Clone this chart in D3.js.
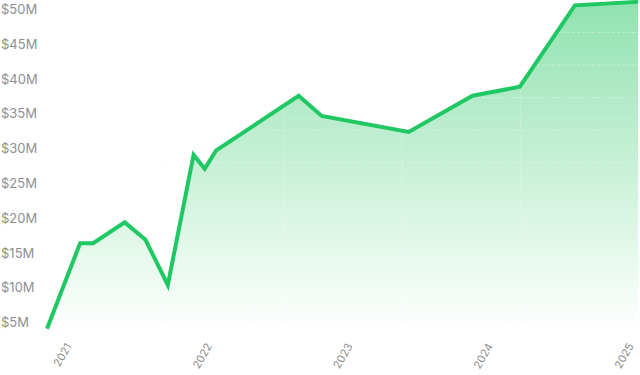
<!DOCTYPE html>
<html>
<head>
<meta charset="utf-8">
<script src="https://cdn.jsdelivr.net/npm/d3@7"></script>
<style>
  body { margin: 0; background: #fff; }
  text { font-family: Inter, "Open Sans", sans-serif; }
</style>
</head>
<body>
<div id="chart"></div>
<script>
// valuation over time, in $M
var dates = ["2020-10-28", "2021-01-22", "2021-02-25", "2021-05-18", "2021-07-11", "2021-09-07",
             "2021-11-13", "2021-12-12", "2022-01-10", "2022-08-13", "2022-10-12", "2023-05-26",
             "2023-11-08", "2024-03-10", "2024-07-31", "2025-01-11"];
var values = [4.1, 16.4, 16.4, 19.4, 16.9, 10.4, 29.1, 27.1, 29.7, 37.6, 34.7, 32.4, 37.6, 38.9, 50.6, 51.1];
var yTicks = [5, 10, 15, 20, 25, 30, 35, 40, 45, 50];
var yearTicks = ["2021", "2022", "2023", "2024", "2025"];

document.addEventListener("DOMContentLoaded", function(e) {
    drawChart();
});

function drawChart(){
    var width = 640;
    var height = 375;
    var plotLeft = 47, plotRight = 639, plotBottom = 325;
    var parse = d3.timeParse("%Y-%m-%d");
    var data = dates.map(function(d, i){ return {date: parse(d), value: values[i]}; });

    var svg = d3.select("#chart")
        .append("svg")
        .attr("width", width)
        .attr("height", height);

    var x = d3.scaleTime()
        .domain(d3.extent(data, function(d){ return d.date; }))
        .range([47, 638]);
    var y = d3.scaleLinear()
        .domain([0, 50])
        .range([357.3, 9.5]);

    var grad = svg.append("defs").append("linearGradient")
        .attr("id", "fade")
        .attr("gradientUnits", "userSpaceOnUse")
        .attr("x1", 0).attr("y1", 0)
        .attr("x2", 0).attr("y2", 330);
    grad.append("stop").attr("offset", "0%").attr("stop-color", "#22c55e").attr("stop-opacity", 0.5);
    grad.append("stop").attr("offset", "100%").attr("stop-color", "#22c55e").attr("stop-opacity", 0);

    var area = d3.area()
        .x(function(d){ return x(d.date); })
        .y0(plotBottom + 10)
        .y1(function(d){ return y(d.value); });
    svg.append("path")
        .datum(data)
        .attr("d", area)
        .attr("fill", "url(#fade)");

    // background grid (does not follow the tick values)
    var gx = d3.scaleLinear().domain([0, 5]).range([plotLeft, plotRight]);
    var gy = d3.scaleLinear().domain([0, 10]).range([0, plotBottom]);
    var grid = svg.append("g")
        .attr("stroke", "#fafafa")
        .attr("stroke-opacity", 0.35)
        .attr("stroke-dasharray", "3,2");
    d3.range(1, 6).forEach(function(i){
        grid.append("line")
            .attr("x1", gx(i)).attr("x2", gx(i))
            .attr("y1", 0).attr("y2", plotBottom);
    });
    d3.range(1, 10).forEach(function(i){
        grid.append("line")
            .attr("x1", plotLeft).attr("x2", plotRight)
            .attr("y1", gy(i)).attr("y2", gy(i));
    });

    var line = d3.line()
        .x(function(d){ return x(d.date); })
        .y(function(d){ return y(d.value); });
    svg.append("path")
        .datum(data)
        .attr("d", line)
        .attr("fill", "none")
        .attr("stroke", "#20c863")
        .attr("stroke-width", 4);

    for (var i = 0; i < yTicks.length; i++){
        svg.append("text")
            .attr("x", 1)
            .attr("y", y(yTicks[i]))
            .attr("dy", "0.35em")
            .attr("font-size", 13)
            .attr("fill", "#8f8f8f")
            .text("$" + yTicks[i] + "M");
    }

    for (var j = 0; j < yearTicks.length; j++){
        var tx = x(parse(yearTicks[j] + "-01-01"));
        svg.append("text")
            .attr("transform", "translate(" + tx + ",346) rotate(-60)")
            .attr("text-anchor", "end")
            .attr("font-size", 11)
            .attr("fill", "#8f8f8f")
            .text(yearTicks[j]);
    }
}
</script>
</body>
</html>
